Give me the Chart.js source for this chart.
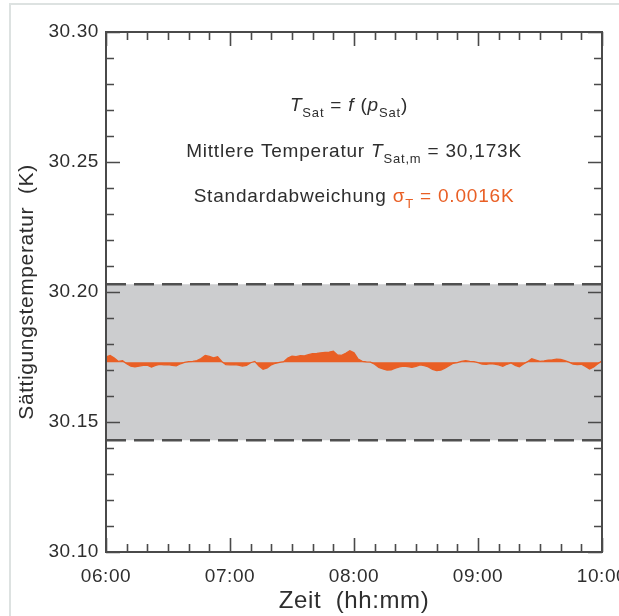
<!DOCTYPE html>
<html>
<head>
<meta charset="utf-8">
<script src="https://cdn.jsdelivr.net/npm/chart.js@4/dist/chart.umd.min.js"></script>
<style>
  html, body { margin: 0; padding: 0; background: #fff; }
  #wrap { position: relative; width: 619px; height: 616px; overflow: hidden; }
  #frame { position: absolute; left: 9px; top: 3px; width: 700px; height: 700px;
           border-left: 2px solid #dde2e1; border-top: 2px solid #dde2e1; }
  #c { position: absolute; left: 0; top: 0; }
</style>
</head>
<body>
<div id="wrap"><div id="frame"></div><canvas id="c" width="619" height="616"></canvas></div>
<script>
// Saturation temperature derived from the saturation pressure, 06:00 - 10:00
const SAMPLE_MIN = 2; // one reading every 2 minutes
const satTemp = [
  30.1750, 30.1756, 30.1746, 30.1733, 30.1736, 30.1724, 30.1715, 30.1712, 30.1715, 30.1718,
  30.1719, 30.1711, 30.1718, 30.1722, 30.1720, 30.1721, 30.1718, 30.1716, 30.1724, 30.1729,
  30.1732, 30.1733, 30.1736, 30.1744, 30.1756, 30.1752, 30.1747, 30.1751, 30.1733, 30.1721,
  30.1720, 30.1721, 30.1719, 30.1715, 30.1718, 30.1728, 30.1733, 30.1715, 30.1703, 30.1708,
  30.1720, 30.1726, 30.1729, 30.1732, 30.1746, 30.1753, 30.1751, 30.1755, 30.1754, 30.1759,
  30.1763, 30.1764, 30.1766, 30.1768, 30.1769, 30.1772, 30.1758, 30.1756, 30.1764, 30.1774,
  30.1766, 30.1742, 30.1733, 30.1731, 30.1730, 30.1722, 30.1710, 30.1704, 30.1700, 30.1701,
  30.1707, 30.1712, 30.1715, 30.1713, 30.1710, 30.1714, 30.1720, 30.1717, 30.1712, 30.1702,
  30.1698, 30.1700, 30.1707, 30.1717, 30.1726, 30.1728, 30.1733, 30.1736, 30.1733, 30.1732,
  30.1728, 30.1723, 30.1722, 30.1725, 30.1723, 30.1720, 30.1714, 30.1722, 30.1727, 30.1718,
  30.1712, 30.1723, 30.1732, 30.1743, 30.1738, 30.1733, 30.1735, 30.1738, 30.1739, 30.1742,
  30.1741, 30.1736, 30.1730, 30.1723, 30.1721, 30.1722, 30.1714, 30.1704, 30.1712, 30.1724,
  30.1735
];
const meanTemp = 30.173;          // K
const sigmaTemp = 0.0016;         // K
const bandUpper = 30.203;         // tolerance band
const bandLower = 30.143;

const hourLabels = ['06:00', '07:00', '08:00', '09:00', '10:00'];
const yTickLabels = ['30.10', '30.15', '30.20', '30.25', '30.30'];

const ORANGE = '#e95f25';
const AXIS = '#4a4a4a';
const TEXT = '#2e2e2e';
const BAND = '#cccdcf';
const FONT = '"Liberation Sans", Arial, sans-serif';

const tempPoints = satTemp.map((t, i) => ({ x: i * SAMPLE_MIN, y: t }));
const spanEnd = (satTemp.length - 1) * SAMPLE_MIN;

// slightly open tracking for every text on the canvas
const tracking = {
  id: 'tracking',
  beforeDraw(chart) { chart.ctx.letterSpacing = '0.6px'; }
};

// ticks pointing inward on all four sides, plus the closed frame
const frameTicks = {
  id: 'frameTicks',
  afterDatasetsDraw(chart) {
    const { ctx, chartArea: a, scales: { x, y } } = chart;
    ctx.save();
    ctx.strokeStyle = AXIS;
    ctx.lineWidth = 1.6;
    ctx.beginPath();
    x.ticks.forEach(t => {
      const px = Math.round(x.getPixelForValue(t.value)) + 0.5;
      const len = t.value % 60 === 0 ? 14 : 8;
      ctx.moveTo(px, a.bottom); ctx.lineTo(px, a.bottom - len);
      ctx.moveTo(px, a.top); ctx.lineTo(px, a.top + len);
    });
    y.ticks.forEach(t => {
      const py = Math.round(y.getPixelForValue(t.value)) + 0.5;
      const major = Math.round(t.value * 100) % 5 === 0;
      const len = major ? 14 : 8;
      ctx.moveTo(a.left, py); ctx.lineTo(a.left + len, py);
      ctx.moveTo(a.right, py); ctx.lineTo(a.right - len, py);
    });
    ctx.stroke();
    ctx.lineWidth = 2;
    ctx.strokeRect(a.left, a.top, a.right - a.left, a.bottom - a.top);
    ctx.restore();
  }
};

// formula lines in the upper part of the plot
function drawRich(ctx, parts, cx, baseY, size) {
  const fontOf = p => `${p.i ? 'italic ' : ''}${p.sub ? Math.round(size * 0.68) : size}px ${FONT}`;
  let w = 0;
  parts.forEach(p => { ctx.font = fontOf(p); w += ctx.measureText(p.t).width; });
  let xx = cx - w / 2;
  parts.forEach(p => {
    ctx.font = fontOf(p);
    ctx.fillStyle = p.c || TEXT;
    ctx.fillText(p.t, xx, baseY + (p.sub ? size * 0.3 : 0));
    xx += ctx.measureText(p.t).width;
  });
}
const formulas = {
  id: 'formulas',
  afterDraw(chart) {
    const { ctx, chartArea: a } = chart;
    const cx = (a.left + a.right) / 2;
    const h = a.bottom - a.top;
    ctx.save();
    ctx.letterSpacing = '0.8px';
    ctx.textBaseline = 'alphabetic';
    drawRich(ctx, [
      { t: 'T', i: 1 }, { t: 'Sat', sub: 1 }, { t: ' = ' }, { t: 'f', i: 1 }, { t: ' (' },
      { t: 'p', i: 1 }, { t: 'Sat', sub: 1 }, { t: ')' }
    ], cx - 5, a.top + h * 0.152, 19);
    drawRich(ctx, [
      { t: 'Mittlere Temperatur ' }, { t: 'T', i: 1 }, { t: 'Sat,m', sub: 1 },
      { t: ' = ' + meanTemp.toFixed(3).replace('.', ',') + 'K' }
    ], cx, a.top + h * 0.240, 19);
    drawRich(ctx, [
      { t: 'Standardabweichung ' }, { t: 'σ', c: ORANGE }, { t: 'T', sub: 1, c: ORANGE },
      { t: ' = ' + sigmaTemp.toFixed(4) + 'K', c: ORANGE }
    ], cx, a.top + h * 0.327, 19);
    ctx.restore();
  }
};

new Chart(document.getElementById('c'), {
  type: 'line',
  data: {
    datasets: [
      {
        label: 'T_Sat',
        data: tempPoints,
        borderColor: ORANGE,
        backgroundColor: ORANGE,
        borderWidth: 1.3,
        pointRadius: 0,
        tension: 0,
        fill: { value: meanTemp },
        order: 0
      },
      {
        label: 'upper',
        data: [{ x: 0, y: bandUpper }, { x: spanEnd, y: bandUpper }],
        borderColor: '#505050',
        borderWidth: 2.4,
        borderDash: [20, 8],
        pointRadius: 0,
        fill: false,
        order: 2
      },
      {
        label: 'lower',
        data: [{ x: 0, y: bandLower }, { x: spanEnd, y: bandLower }],
        borderColor: '#505050',
        backgroundColor: BAND,
        borderWidth: 2.4,
        borderDash: [20, 8],
        pointRadius: 0,
        fill: '-1',
        order: 1
      }
    ]
  },
  options: {
    responsive: false,
    animation: false,
    layout: { padding: { left: 0, top: 32, right: 17, bottom: 0 } },
    plugins: {
      legend: { display: false },
      tooltip: { enabled: false },
      filler: { drawTime: 'beforeDatasetsDraw' }
    },
    scales: {
      x: {
        type: 'linear',
        min: 0,
        max: 240,
        grid: { display: false, drawTicks: false },
        border: { display: false },
        ticks: {
          stepSize: 10,
          autoSkip: false,
          maxRotation: 0,
          padding: 13,
          color: TEXT,
          font: { family: FONT, size: 19 },
          callback: v => (v % 60 === 0 ? hourLabels[v / 60] : '')
        },
        title: {
          display: true,
          text: 'Zeit  (hh:mm)',
          color: TEXT,
          font: { family: FONT, size: 24 },
          padding: { top: 0, bottom: 0 }
        },
        afterFit(s) { s.height = 64; s.paddingLeft = 0; s.paddingRight = 0; }
      },
      y: {
        type: 'linear',
        min: 30.10,
        max: 30.30,
        grid: { display: false, drawTicks: false },
        border: { display: false },
        ticks: {
          stepSize: 0.01,
          autoSkip: false,
          padding: 7,
          color: TEXT,
          font: { family: FONT, size: 19 },
          callback: v => yTickLabels.find(l => Math.abs(parseFloat(l) - v) < 1e-6) || ''
        },
        title: {
          display: true,
          text: 'Sättigungstemperatur  (K)',
          color: TEXT,
          font: { family: FONT, size: 21 },
          padding: { top: 15, bottom: 0 }
        },
        afterFit(s) { s.width = 106; s.paddingTop = 0; s.paddingBottom = 0; }
      }
    }
  },
  plugins: [tracking, frameTicks, formulas]
});
</script>
</body>
</html>
